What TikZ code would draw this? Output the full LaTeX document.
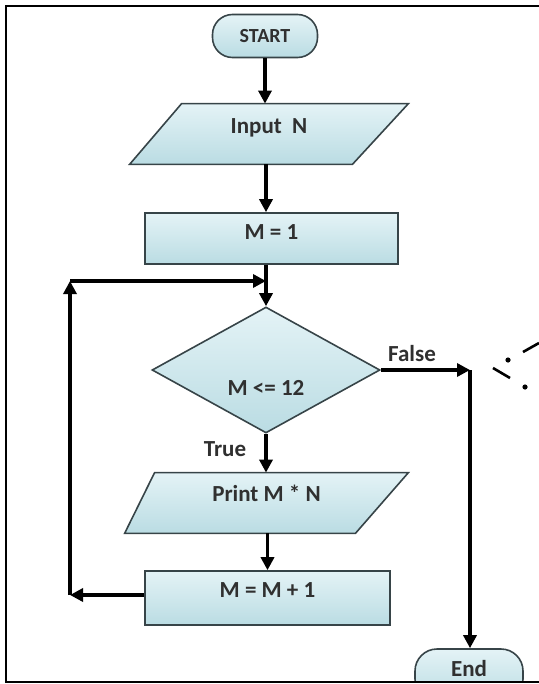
\documentclass[tikz,border=0pt]{standalone}
\usepackage{fontspec}
\setmainfont{Carlito}
\usepackage{tikz}
\usetikzlibrary{shapes,arrows.meta,positioning,calc,backgrounds}
\usepackage{xcolor}
\definecolor{boxlight}{RGB}{228,243,246}
\definecolor{boxdark}{RGB}{186,220,227}
\definecolor{boxline}{RGB}{55,68,72}
\definecolor{txtgray}{RGB}{48,48,48}
\newcommand{\lift}[2]{\raisebox{#1}[\height][\depth]{#2}}
% parallelogram behind an io node: node, top-left inset, bottom-right inset
\newcommand{\ioshape}[3]{%
  \begin{scope}[on background layer]
    \draw[boxpath] ($(#1.north west)+(#2,0)$) -- (#1.north east)
      -- ($(#1.south east)-(#3,0)$) -- (#1.south west) -- cycle;
  \end{scope}}

\begin{document}
\begin{tikzpicture}[x=0.5pt, y=-0.5pt,
    boxpath/.style={draw=boxline, line width=0.8pt, top color=boxlight, bottom color=boxdark},
    box/.style={boxpath, text=txtgray, font=\fontsize{11.5}{13}\bfseries, inner sep=0pt},
    procbox/.style={box, rectangle},
    termbox/.style={box, rectangle, rounded corners=10pt},
    iobox/.style={rectangle, text=txtgray, font=\fontsize{11.5}{13}\bfseries, inner sep=0pt},
    testbox/.style={box, diamond},
    lbl/.style={text=txtgray, font=\fontsize{11.5}{13}\bfseries, inner sep=0pt},
    flow/.style={line width=1.7pt, -{Triangle[length=6.5pt,width=6.5pt]}},
    link/.style={line width=1.7pt}]
    \useasboundingbox (0,0) rectangle (539,684);

    % shapes
    \node[termbox, minimum width=52.5pt, minimum height=21.5pt, font=\fontsize{10}{12}\bfseries] (start) at (265,36) {START};
    \node[iobox, minimum width=139pt, minimum height=30pt] (input) at (269,134) {\lift{3pt}{Input~~N}};
    \ioshape{input}{52}{56}
    \node[procbox, minimum width=126.5pt, minimum height=25.5pt] (init) at (271.5,238.5) {\lift{3pt}{M = 1}};
    \node[testbox, minimum width=114pt, minimum height=63pt] (decide) at (266,370) {};
    \node[lbl] (dtext) at (266,388) {M <= 12};
    \node[iobox, minimum width=141.5pt, minimum height=30pt] (print) at (266.5,503) {\lift{5pt}{Print M * N}};
    \ioshape{print}{30}{53}
    \node[procbox, minimum width=122.5pt, minimum height=27pt] (incr) at (267.5,598) {\lift{4pt}{M = M + 1}};
    \begin{scope}
        \clip (0,0) rectangle (539,682);
        \node[termbox, rounded corners=11pt, minimum width=54pt, minimum height=26pt] (stop) at (469,675) {\lift{3pt}{End}};
    \end{scope}

    % connectors
    \coordinate (join) at (266,281);
    \coordinate (fcorner) at (470,370);
    \coordinate (lbot) at (70,595);
    \coordinate (ltop) at (70,281);
    \draw[flow] (start.south) -- (start.south |- input.north);
    \draw[flow] (input.south -| join) -- (join |- init.north);
    \draw[link] (init.south -| join) -- (join);
    \draw[flow] (join) -- (decide.north);
    \draw[flow] (decide.east) -- (fcorner);
    \draw[flow] (fcorner) -- (fcorner |- stop.north);
    \draw[flow] (decide.south) -- (decide.south |- print.north);
    \draw[flow] (print.south -| incr.north) -- (incr.north);
    \draw[flow] (incr.west |- lbot) -- (lbot);
    \draw[flow] (lbot) -- (ltop);
    \draw[flow] (ltop) -- (join);
    \node[lbl] (ftext) at (412,354) {False};
    \node[lbl] (ttext) at (225,449) {True};

    % frame and stray marks
    \draw[line width=1pt] (539,6) -- (6,6) -- (6,682) -- (539,682);
    \draw[line width=1.3pt] (493,368) -- (510,378);
    \draw[line width=1.3pt] (523,352) -- (539,343);
    \fill (508,360) circle (1.3pt);
    \fill (525,387) circle (1.3pt);
\end{tikzpicture}
\end{document}
